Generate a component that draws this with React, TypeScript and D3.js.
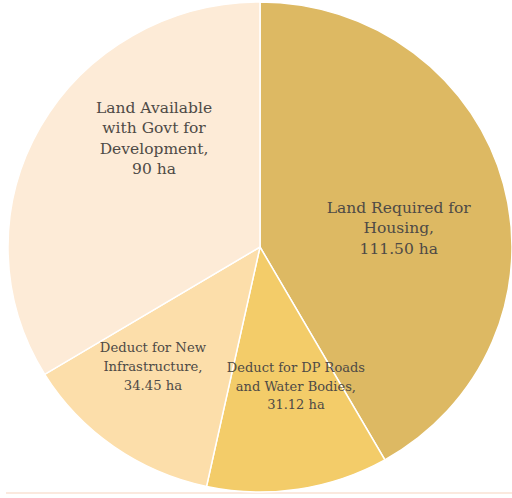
import React from "react";
import * as d3 from "d3";

const categories = [
  "Land Required for Housing",
  "Deduct for DP Roads and Water Bodies",
  "Deduct for New Infrastructure",
  "Land Available with Govt for Development",
];
const values = [111.5, 31.12, 34.45, 90];
const labelLines = [
  ["Land Required for", "Housing,", "111.50 ha"],
  ["Deduct for DP Roads", "and Water Bodies,", "31.12 ha"],
  ["Deduct for New", "Infrastructure,", "34.45 ha"],
  ["Land Available", "with Govt for", "Development,", "90 ha"],
];
const colors = ["#DDB963", "#F3CC69", "#FCDEAA", "#FDEBD7"];
// label placement: angle (deg, clockwise from top) and radius fraction
const labelAngle = [82.0, 165.9, 221.2, 316.6];
const labelRadius = [0.556, 0.585, 0.645, 0.612];
const labelSize = [15.5, 13, 13.2, 15.5];
const labelLineH = [20.5, 18.5, 19, 20.5];

export default function App() {
  const W = 512, H = 498;
  const cx = 260, cy = 247, ry = 245, rx = 252;
  const sx = rx / ry;
  const pie = d3.pie<number>().sort(null).value((d) => d)(values);
  const arc = d3.arc<d3.PieArcDatum<number>>().innerRadius(0).outerRadius(ry);
  const labelPos = (i: number) => {
    const a = (labelAngle[i] * Math.PI) / 180;
    const r = labelRadius[i] * ry;
    const c = d3.arc().innerRadius(r).outerRadius(r).centroid({
      startAngle: a, endAngle: a, innerRadius: r, outerRadius: r,
    } as any);
    return [cx + c[0] * sx, cy + c[1]];
  };
  return (
    <svg width={W} height={H} style={{ position: "absolute", left: 0, top: 0, background: "#fff" }}>
      <rect x={6} y={492} width={506} height={2} fill="#FBE9DE" />
      <g transform={`translate(${cx},${cy}) scale(${sx},1)`}>
        {pie.map((p, i) => (
          <path key={categories[i]} d={arc(p) || ""} fill={colors[i]} stroke="#fff" strokeWidth={1.5} vectorEffect="non-scaling-stroke" />
        ))}
      </g>
      {labelLines.map((lines, i) => {
        const [x, y] = labelPos(i);
        const n = lines.length;
        const lh = labelLineH[i];
        return (
          <text key={i} x={x} y={y} textAnchor="middle" fontFamily="'DejaVu Serif', serif" fontSize={labelSize[i]} fill="#4E4A46">
            {lines.map((l, j) => (
              <tspan key={j} x={x} y={y + (j - (n - 1) / 2) * lh} dy="0.35em">{l}</tspan>
            ))}
          </text>
        );
      })}
    </svg>
  );
}
